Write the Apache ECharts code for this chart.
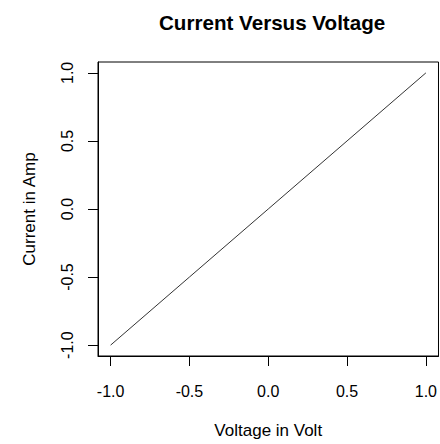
<!DOCTYPE html>
<html>
<head>
<meta charset="utf-8">
<script src="https://cdn.jsdelivr.net/npm/echarts@6/dist/echarts.min.js"></script>
<style>
  html, body { margin: 0; padding: 0; background: #fff; }
  #chart { width: 440px; height: 444px; }
</style>
</head>
<body>
<div id="chart"></div>
<script>
// data
const voltage = [-1.0, -0.5, 0.0, 0.5, 1.0];
const current = [-1.0, -0.5, 0.0, 0.5, 1.0];
const xTicks = [-1.0, -0.5, 0.0, 0.5, 1.0];
const yTicks = [-1.0, -0.5, 0.0, 0.5, 1.0];

// svg renderer: rotated canvas text came out doubled in the sandbox
const chart = echarts.init(document.getElementById('chart'), null, { renderer: 'svg' });

const font = 'Liberation Sans, Arial, Helvetica, sans-serif';

const option = {
  animation: false,
  backgroundColor: '#fff',
  title: {
    text: 'Current Versus Voltage',
    left: 154,
    top: 7,
    textStyle: { fontFamily: font, fontSize: 20.6, fontWeight: 'bold', color: '#000' }
  },
  grid: {
    left: 98, top: 62, width: 344, height: 297,
    show: true, borderColor: '#000', borderWidth: 1, backgroundColor: 'transparent'
  },
  xAxis: {
    type: 'value',
    min: -1.08, max: 1.08,
    name: 'Voltage in Volt',
    nameLocation: 'middle',
    nameGap: 66,
    nameTextStyle: { fontFamily: font, fontSize: 17, color: '#000' },
    axisLine: { show: true, onZero: false, lineStyle: { color: '#000', width: 1 } },
    axisTick: { show: true, length: 10, inside: false, customValues: xTicks, lineStyle: { color: '#000' } },
    axisLabel: {
      customValues: xTicks, margin: 27,
      fontFamily: font, fontSize: 16, color: '#000',
      formatter: v => v.toFixed(1)
    },
    splitLine: { show: false }
  },
  yAxis: {
    type: 'value',
    min: -1.08, max: 1.08,
    name: 'Current in Amp',
    nameLocation: 'middle',
    nameGap: 60,
    nameTextStyle: { fontFamily: font, fontSize: 17, color: '#000' },
    axisLine: { show: true, onZero: false, lineStyle: { color: '#000', width: 1 } },
    axisTick: { show: true, length: 10, inside: false, customValues: yTicks, lineStyle: { color: '#000' } },
    axisLabel: {
      customValues: yTicks, margin: 23, rotate: 90,
      fontFamily: font, fontSize: 16, color: '#000',
      formatter: v => v.toFixed(1)
    },
    splitLine: { show: false }
  },
  series: [{
    type: 'line',
    data: voltage.map((v, i) => [v, current[i]]),
    showSymbol: false,
    lineStyle: { color: '#333', width: 1 }
  }]
};

chart.setOption(option);
</script>
</body>
</html>
